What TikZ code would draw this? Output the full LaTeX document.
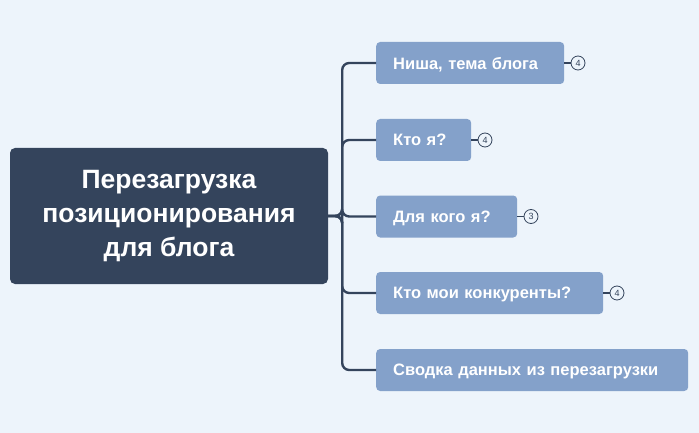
\documentclass[tikz,border=0pt]{standalone}
\usepackage{fontspec}
\setmainfont{Liberation Sans}
\begin{document}
\begin{tikzpicture}[x=1pt,y=-1pt,
  br/.style={fill=brc,rounded corners=4pt,text=white,font=\bfseries\fontsize{16.5}{19}\selectfont,anchor=west,minimum height=42pt,inner xsep=17pt,align=left,text depth=0pt},
  con/.style={draw=dk,line width=2.4pt,rounded corners=7pt},
  cnt/.style={circle,draw=dk,line width=0.8pt,fill=bgc,inner sep=0pt,minimum size=14pt,font=\fontsize{9}{10}\selectfont,text=dk},
  stub/.style={draw=dk,line width=1.3pt}]
\definecolor{bgc}{HTML}{EDF4FB}
\definecolor{dk}{HTML}{34445C}
\definecolor{brc}{HTML}{84A1CA}
\fill[bgc] (0,0) rectangle (699,433);
\useasboundingbox (0,0) rectangle (699,433);
\node[fill=dk,rounded corners=5pt,minimum width=318pt,minimum height=136pt,text=white,font=\bfseries\fontsize{26.5}{34}\selectfont,align=center] (c) at (169,216) {Перезагрузка\\позиционирования\\для блога};
\node[br,text width=154pt] (n1) at (376,63) {Ниша, тема блога};
\node[br,text width=61pt] (n2) at (376,140) {Кто я?};
\node[br,text width=107pt] (n3) at (376,216.5) {Для кого я?};
\node[br,text width=193pt] (n4) at (376,293) {Кто мои конкуренты?};
\node[br,text width=278pt] (n5) at (376,370) {Сводка данных из перезагрузки};
\foreach \n in {n1,n2,n3,n4,n5}{\draw[con] (c.east) -- ++(14,0) |- (\n.west);}
\node[cnt] (k1) at (578,63) {4};
\node[cnt] (k2) at (485,140) {4};
\node[cnt] (k3) at (531,216.5) {3};
\node[cnt] (k4) at (617,293) {4};
\draw[stub] (n1.east) -- (k1.west);
\draw[stub] (n2.east) -- (k2.west);
\draw[stub] (n3.east) -- (k3.west);
\draw[stub] (n4.east) -- (k4.west);
\end{tikzpicture}
\end{document}
